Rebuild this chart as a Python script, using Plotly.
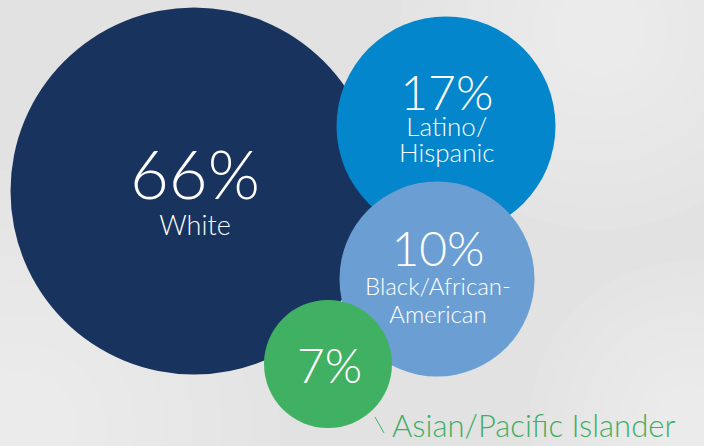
import plotly.graph_objects as go

# data
groups = ["White", "Latino/<br>Hispanic", "Black/African-<br>American", "Asian/Pacific Islander"]
shares = [66, 17, 10, 7]

# layout of the bubbles (pixel space of the 704x446 canvas)
cx = [194, 446, 437, 328]
cy = [191, 126, 279, 364]
diam = [367, 219, 195, 128]
colors = ["#18335e", "#0386cb", "#6b9fd4", "#40b163"]

W, H = 704, 446
FONT = "Lato"

fig = go.Figure()

# soft backdrop, imitating the blurred photo: stacked faint discs give a smooth glow
for gx, gy, r in [(20, 430, 260), (600, 30, 200), (690, 420, 160)]:
    for k in range(8):
        rr = r * (1 - k / 9)
        fig.add_shape(type="circle", x0=gx - rr, y0=gy - rr, x1=gx + rr, y1=gy + rr,
                      xref="x", yref="y", fillcolor="white", opacity=0.07,
                      line_width=0, layer="below")

fig.add_trace(go.Scatter(
    x=cx, y=cy, mode="markers",
    marker=dict(size=diam, color=colors, opacity=1, line_width=0),
    hoverinfo="skip", showlegend=False,
))

# one label per bubble; the base font size sets the line spacing (1.3x)
pct_sizes = [67, 48, 48, 48]
name_sizes = [27, 26, 24, 0]
base_sizes = [28, 20, 22, 48]
label_y = [187, 115, 273, 364]
for i in range(len(shares)):
    txt = f"<span style='font-size:{pct_sizes[i]}px'>{shares[i]}%</span>"
    if i < 3:
        txt += "".join(f"<br><span style='font-size:{name_sizes[i]}px'>{line}</span>"
                       for line in groups[i].split("<br>"))
    fig.add_annotation(x=cx[i] + 1, y=label_y[i], text=txt, showarrow=False,
                       font=dict(family=FONT, size=base_sizes[i], color="white", weight=300))

# callout for the smallest group
fig.add_shape(type="line", x0=375, y0=417, x1=384, y1=433, line=dict(color="#40b163", width=1))
fig.add_annotation(x=390, y=H, text=groups[3], showarrow=False, xanchor="left", yanchor="bottom",
                   font=dict(family=FONT, size=31, color="#3fae63", weight=300))

fig.update_xaxes(range=[0, W], visible=False, fixedrange=True)
fig.update_yaxes(range=[H, 0], visible=False, fixedrange=True)
fig.update_layout(
    width=W, height=H, margin=dict(l=0, r=0, t=0, b=0),
    paper_bgcolor="#e2e2e2", plot_bgcolor="#e2e2e2",
)

fig.write_html("out.html", config={"displayModeBar": False},
               post_script="document.body.style.margin='0';")
